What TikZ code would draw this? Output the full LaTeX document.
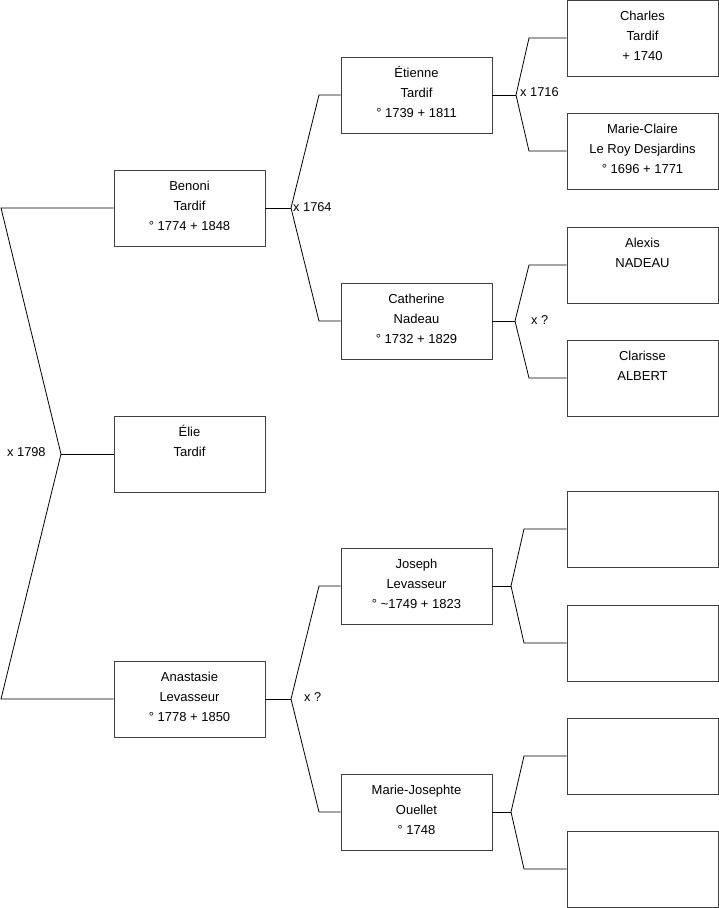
\documentclass[tikz,border=0pt]{standalone}
\usepackage{fontspec}
\setmainfont{Liberation Sans}
\begin{document}
\begin{tikzpicture}[x=1pt,y=-1pt,
  box/.style={draw=black!75,line width=0.8pt,minimum width=151pt,minimum height=76pt,inner sep=0pt,fill=white},
  txt/.style={align=center,inner sep=0pt,anchor=base,font=\fontsize{13}{20}\selectfont},
  lbl/.style={inner sep=0pt,anchor=west,font=\fontsize{12.8}{14}\selectfont},
  conn/.style={draw=black,line width=0.8pt}]
\useasboundingbox (0,0) rectangle (719,908);
% boxes
\node[box] (benoni) at (189.5,208) {};
\node[box] (elie) at (189.5,454) {};
\node[box] (anastasie) at (189.5,699) {};
\node[box] (etienne) at (416.5,95) {};
\node[box] (catherine) at (416.5,321) {};
\node[box] (joseph) at (416.5,586) {};
\node[box] (mjosephte) at (416.5,812) {};
\node[box] (charles) at (642.5,38) {};
\node[box] (mclaire) at (642.5,151) {};
\node[box] (alexis) at (642.5,265) {};
\node[box] (clarisse) at (642.5,378) {};
\node[box] (e1) at (642.5,529) {};
\node[box] (e2) at (642.5,643) {};
\node[box] (e3) at (642.5,756) {};
\node[box] (e4) at (642.5,869) {};
% texts (anchor = baseline of last line)
\node[txt] (tbenoni) at ([yshift=-60.8pt]benoni.north) {Benoni\\Tardif\\° 1774 + 1848};
\node[txt] (telie) at ([yshift=-40.8pt]elie.north) {Élie\\Tardif};
\node[txt] (tanastasie) at ([yshift=-60.8pt]anastasie.north) {Anastasie\\Levasseur\\° 1778 + 1850};
\node[txt] (tetienne) at ([yshift=-60.5pt]etienne.north) {Étienne\\Tardif\\° 1739 + 1811};
\node[txt] (tcatherine) at ([yshift=-60.5pt]catherine.north) {Catherine\\Nadeau\\° 1732 + 1829};
\node[txt] (tjoseph) at ([yshift=-60.5pt]joseph.north) {Joseph\\Levasseur\\° \textasciitilde 1749 + 1823};
\node[txt] (tmjosephte) at ([yshift=-60.5pt]mjosephte.north) {Marie-Josephte\\Ouellet\\° 1748};
\node[txt] (tcharles) at ([yshift=-60.5pt]charles.north) {Charles\\Tardif\\+ 1740};
\node[txt] (tmclaire) at ([yshift=-60.5pt]mclaire.north) {Marie-Claire\\Le Roy Desjardins\\° 1696 + 1771};
\node[txt] (talexis) at ([yshift=-40.5pt]alexis.north) {Alexis\\NADEAU};
\node[txt] (tclarisse) at ([yshift=-40.5pt]clarisse.north) {Clarisse\\ALBERT};
% junction coordinates
\coordinate (r0) at (1,208);
\coordinate (r1) at (61,454);
\coordinate (r2) at (1,699);
\coordinate (b0) at (291,208);
\coordinate (b1) at (319,95);
\coordinate (b2) at (319,321);
\coordinate (a0) at (291,699);
\coordinate (a1) at (319,586);
\coordinate (a2) at (319,812);
\coordinate (et0) at (516,95);
\coordinate (et1) at (529,38);
\coordinate (et2) at (529,151);
\coordinate (c0) at (515,321);
\coordinate (c1) at (529,265);
\coordinate (c2) at (529,378);
\coordinate (j0) at (511,586);
\coordinate (j1) at (524,529);
\coordinate (j2) at (524,643);
\coordinate (m0) at (511,812);
\coordinate (m1) at (524,756);
\coordinate (m2) at (524,869);
% connectors
\draw[conn] (benoni.west) -- (r0) -- (r1) -- (r2) -- (anastasie.west);
\draw[conn] (r1) -- (elie.west);
\draw[conn] (benoni.east) -- (b0);
\draw[conn] (etienne.west) -- (b1) -- (b0) -- (b2) -- (catherine.west);
\draw[conn] (anastasie.east) -- (a0);
\draw[conn] (joseph.west) -- (a1) -- (a0) -- (a2) -- (mjosephte.west);
\draw[conn] (etienne.east) -- (et0);
\draw[conn] (charles.west) -- (et1) -- (et0) -- (et2) -- (mclaire.west);
\draw[conn] (catherine.east) -- (c0);
\draw[conn] (alexis.west) -- (c1) -- (c0) -- (c2) -- (clarisse.west);
\draw[conn] (joseph.east) -- (j0);
\draw[conn] (e1.west) -- (j1) -- (j0) -- (j2) -- (e2.west);
\draw[conn] (mjosephte.east) -- (m0);
\draw[conn] (e3.west) -- (m1) -- (m0) -- (m2) -- (e4.west);
% marriage labels
\node[lbl] (l1798) at (7,452) {x 1798};
\node[lbl] (l1764) at (293,207) {x 1764};
\node[lbl] (l1716) at (520,92) {x 1716};
\node[lbl] (lc) at (531,320) {x ?};
\node[lbl] (la) at (304,697) {x ?};
\end{tikzpicture}
\end{document}
